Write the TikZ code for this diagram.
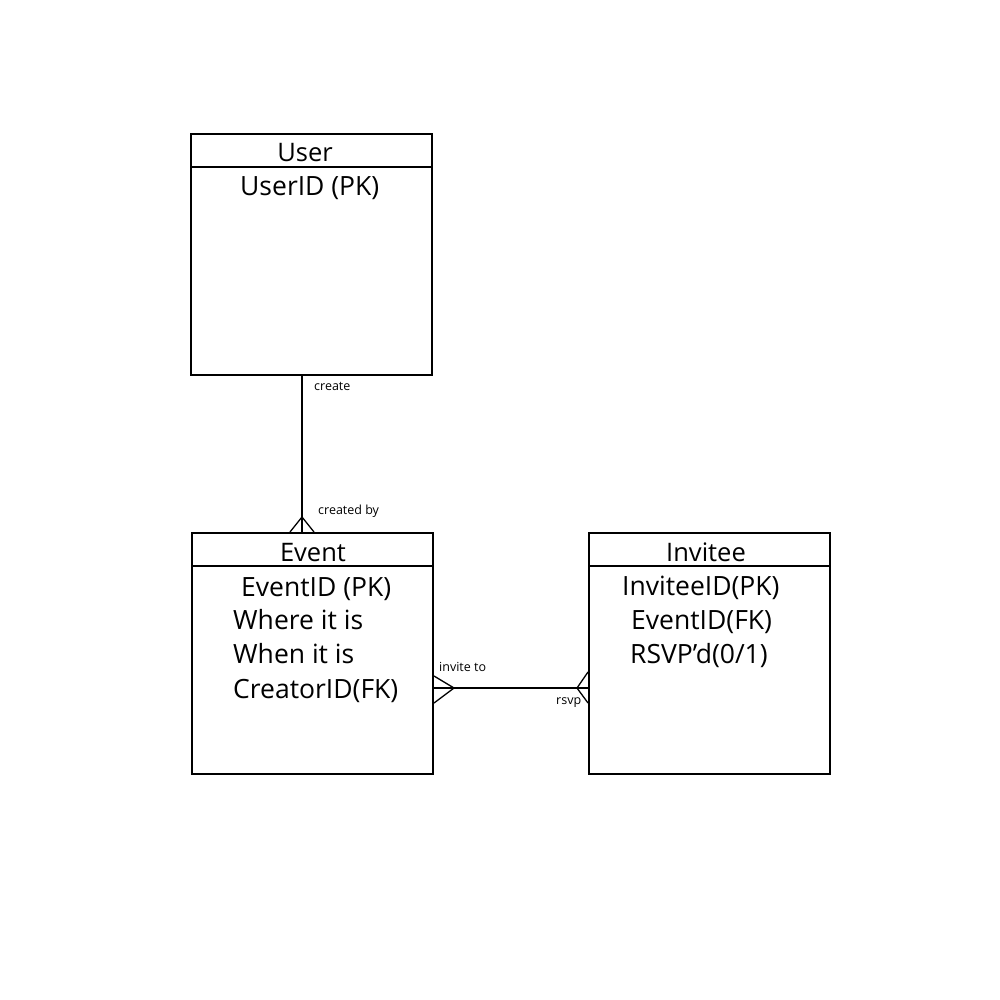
\documentclass[tikz,border=0pt]{standalone}
\usepackage{fontspec}
\setmainfont{Open Sans}
\usetikzlibrary{calc}
\begin{document}
\begin{tikzpicture}[x=1pt,y=-1pt,
  entity/.style={draw, line width=2pt, minimum width=241pt, minimum height=241pt, anchor=north west, inner sep=0pt},
  headline/.style={line width=1.3pt},
  title/.style={font=\fontsize{25.5}{30}\selectfont, anchor=base},
  attr/.style={font=\fontsize{26.5}{31}\selectfont, anchor=base west, inner sep=0pt},
  rel/.style={line width=1.3pt},
  lbl/.style={font=\fontsize{12.5}{15}\selectfont, anchor=base west, inner sep=0pt}]
\useasboundingbox (0,0) rectangle (1000,1000);
\fill[white] (0,0) rectangle (1000,1000);

% entity boxes
\node[entity] (user) at (190,133) {};
\node[entity] (event) at (191,532) {};
\node[entity] (invitee) at (588,532) {};

% header separators
\draw[headline] ($(user.north west)+(0,34)$) -- ($(user.north east)+(0,34)$);
\draw[headline] ($(event.north west)+(0,34)$) -- ($(event.north east)+(0,34)$);
\draw[headline] ($(invitee.north west)+(0,34)$) -- ($(invitee.north east)+(0,34)$);

% titles
\node[title] (usert) at (305,162) {User};
\node[title] (eventt) at (313,561) {Event};
\node[title] (inviteet) at (706,561) {Invitee};

% attributes
\node[attr] (u1) at (240,196) {UserID (PK)};
\node[attr] (e1) at (241,596) {EventID (PK)};
\node[attr] (e2) at (233,629) {Where it is};
\node[attr] (e3) at (233,663) {When it is};
\node[attr] (e4) at (233,698) {CreatorID(FK)};
\node[attr] (i1) at (622,595) {InviteeID(PK)};
\node[attr] (i2) at (631,629) {EventID(FK)};
\node[attr] (i3) at (630,663) {RSVP’d(0/1)};

% user -- event (one to many)
\coordinate (ua) at (302,0 |- user.south);
\coordinate (eb) at (302,0 |- event.north);
\draw[rel] (ua) -- (eb);
\draw[line width=2pt] (ua) -- ++(0,24);
\draw[rel] ($(eb)+(0,-15)$) -- ($(eb)+(-12,0)$);
\draw[rel] ($(eb)+(0,-15)$) -- ($(eb)+(12,0)$);

% event -- invitee (many to many)
\coordinate (ea) at (event.east |- 0,688);
\coordinate (ib) at (invitee.west |- 0,688);
\draw[rel] (ea) -- (ib);
\draw[rel] ($(ea)+(20,0)$) -- ($(ea)+(0,-12)$);
\draw[rel] ($(ea)+(20,0)$) -- ($(ea)+(0,15)$);
\draw[rel] ($(ib)+(-11,0)$) -- ($(ib)+(0,-16)$);
\draw[rel] ($(ib)+(-11,0)$) -- ($(ib)+(0,15)$);

% relationship labels
\node[lbl] (l1) at (314,390) {create};
\node[lbl] (l2) at (318,514) {created by};
\node[lbl] (l3) at (439,671) {invite to};
\node[lbl] (l4) at (556,704) {rsvp};
\end{tikzpicture}
\end{document}
